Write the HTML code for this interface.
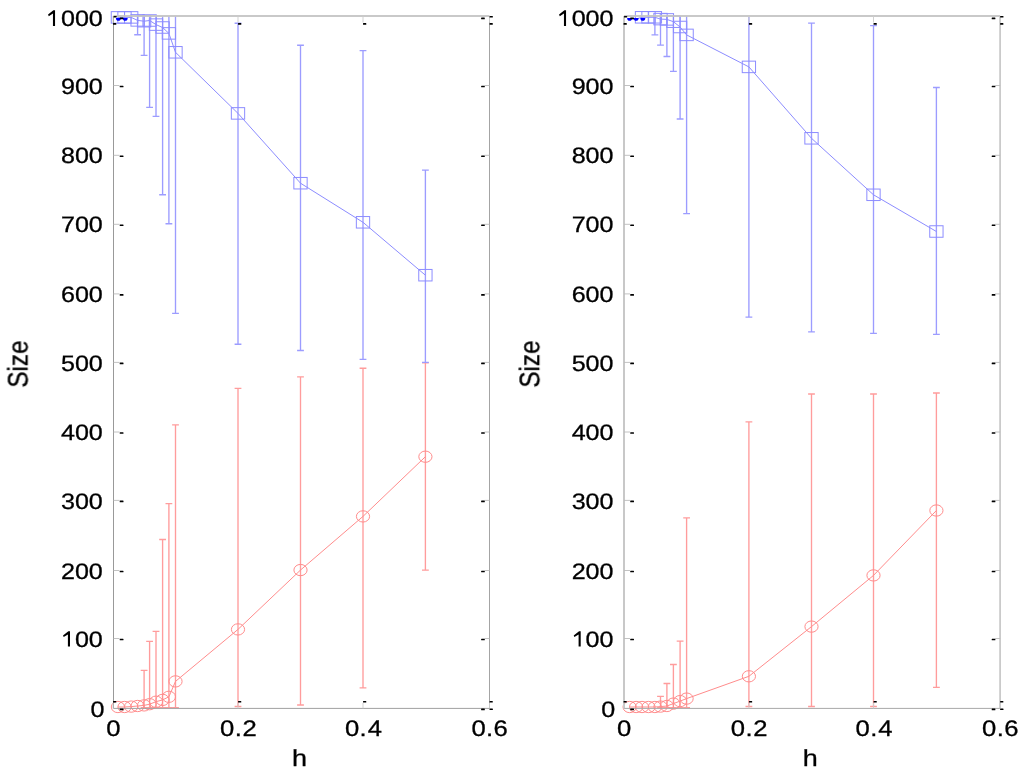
<!DOCTYPE html>
<html><head><meta charset="utf-8"><style>
html,body{margin:0;padding:0;background:#fff;overflow:hidden;}
svg{display:block;}
text{text-rendering:geometricPrecision;font-family:"Liberation Sans",sans-serif;font-size:22.3px;fill:#000;stroke:#000;stroke-width:0.3px;}
</style></head><body>
<svg width="1024" height="773" viewBox="0 0 1024 773">
<rect width="1024" height="773" fill="#fff"/>
<path d="M144.1 670.3V707.6M140.7 670.3H147.5M140.7 707.6H147.5" stroke="#ff9c9c" fill="none" stroke-width="1.35"/>
<path d="M149.6 641.3V707.6M146.2 641.3H153M146.2 707.6H153" stroke="#ff9c9c" fill="none" stroke-width="1.35"/>
<path d="M156 631.4V707.6M152.6 631.4H159.4M152.6 707.6H159.4" stroke="#ff9c9c" fill="none" stroke-width="1.35"/>
<path d="M162.6 539.5V707.6M159.2 539.5H166M159.2 707.6H166" stroke="#ff9c9c" fill="none" stroke-width="1.35"/>
<path d="M168.9 503.6V707.6M165.5 503.6H172.3M165.5 707.6H172.3" stroke="#ff9c9c" fill="none" stroke-width="1.35"/>
<path d="M175.5 424.8V707.6M172.1 424.8H178.9M172.1 707.6H178.9" stroke="#ff9c9c" fill="none" stroke-width="1.35"/>
<path d="M238 388.3V706.5M234.6 388.3H241.4M234.6 706.5H241.4" stroke="#ff9c9c" fill="none" stroke-width="1.35"/>
<path d="M300.5 376.8V705M297.1 376.8H303.9M297.1 705H303.9" stroke="#ff9c9c" fill="none" stroke-width="1.35"/>
<path d="M363 368.2V687.8M359.6 368.2H366.4M359.6 687.8H366.4" stroke="#ff9c9c" fill="none" stroke-width="1.35"/>
<path d="M425.4 362.9V570.1M422 362.9H428.8M422 570.1H428.8" stroke="#ff9c9c" fill="none" stroke-width="1.35"/>
<path d="M137.6 16.4V34.7M134.2 34.7H141" stroke="#9c9cff" fill="none" stroke-width="1.35"/>
<path d="M144.1 16.4V55.4M140.7 55.4H147.5" stroke="#9c9cff" fill="none" stroke-width="1.35"/>
<path d="M149.6 16.4V107.4M146.2 107.4H153" stroke="#9c9cff" fill="none" stroke-width="1.35"/>
<path d="M156 16.4V116.3M152.6 116.3H159.4" stroke="#9c9cff" fill="none" stroke-width="1.35"/>
<path d="M162.6 16.4V194.7M159.2 194.7H166" stroke="#9c9cff" fill="none" stroke-width="1.35"/>
<path d="M168.9 16.4V223.7M165.5 223.7H172.3" stroke="#9c9cff" fill="none" stroke-width="1.35"/>
<path d="M175.5 16.4V313.4M172.1 313.4H178.9" stroke="#9c9cff" fill="none" stroke-width="1.35"/>
<path d="M238 23.2V344.2M234.6 23.2H241.4M234.6 344.2H241.4" stroke="#9c9cff" fill="none" stroke-width="1.35"/>
<path d="M300.5 45.2V350.5M297.1 45.2H303.9M297.1 350.5H303.9" stroke="#9c9cff" fill="none" stroke-width="1.35"/>
<path d="M363 50.6V359.4M359.6 50.6H366.4M359.6 359.4H366.4" stroke="#9c9cff" fill="none" stroke-width="1.35"/>
<path d="M425.4 170.1V362.3M422 170.1H428.8M422 362.3H428.8" stroke="#9c9cff" fill="none" stroke-width="1.35"/>
<polyline points="117.9,17.4 124.5,17.4 131.2,17.4 137.6,20.4 144.1,21.2 149.6,20.5 156,24.6 162.6,27.5 168.9,33.4 175.5,52.3 238,113.4 300.5,183.2 363,222.3 425.4,275.2" stroke="#8c8cff" fill="none" stroke-width="1"/>
<polyline points="117.9,707 124.5,707 131.2,706.6 137.6,706 144.1,705.4 149.6,704.2 156,701.7 162.6,699.9 168.9,696.8 175.5,681.4 238,629.4 300.5,570.05 363,516.4 425.4,456.7" stroke="#ff8c8c" fill="none" stroke-width="1"/>
<rect x="111.25" y="11.65" width="13.3" height="11.5" stroke="#8c8cff" fill="none" stroke-width="1"/>
<rect x="117.85" y="11.65" width="13.3" height="11.5" stroke="#8c8cff" fill="none" stroke-width="1"/>
<rect x="124.55" y="11.65" width="13.3" height="11.5" stroke="#8c8cff" fill="none" stroke-width="1"/>
<rect x="130.95" y="14.65" width="13.3" height="11.5" stroke="#8c8cff" fill="none" stroke-width="1"/>
<rect x="137.45" y="15.45" width="13.3" height="11.5" stroke="#8c8cff" fill="none" stroke-width="1"/>
<rect x="142.95" y="14.75" width="13.3" height="11.5" stroke="#8c8cff" fill="none" stroke-width="1"/>
<rect x="149.35" y="18.85" width="13.3" height="11.5" stroke="#8c8cff" fill="none" stroke-width="1"/>
<rect x="155.95" y="21.75" width="13.3" height="11.5" stroke="#8c8cff" fill="none" stroke-width="1"/>
<rect x="162.25" y="27.65" width="13.3" height="11.5" stroke="#8c8cff" fill="none" stroke-width="1"/>
<rect x="168.85" y="46.55" width="13.3" height="11.5" stroke="#8c8cff" fill="none" stroke-width="1"/>
<rect x="231.35" y="107.65" width="13.3" height="11.5" stroke="#8c8cff" fill="none" stroke-width="1"/>
<rect x="293.85" y="177.45" width="13.3" height="11.5" stroke="#8c8cff" fill="none" stroke-width="1"/>
<rect x="356.35" y="216.55" width="13.3" height="11.5" stroke="#8c8cff" fill="none" stroke-width="1"/>
<rect x="418.75" y="269.45" width="13.3" height="11.5" stroke="#8c8cff" fill="none" stroke-width="1"/>
<ellipse cx="117.9" cy="707" rx="6.6" ry="5.65" stroke="#ff8c8c" fill="none" stroke-width="1"/>
<ellipse cx="124.5" cy="707" rx="6.6" ry="5.65" stroke="#ff8c8c" fill="none" stroke-width="1"/>
<ellipse cx="131.2" cy="706.6" rx="6.6" ry="5.65" stroke="#ff8c8c" fill="none" stroke-width="1"/>
<ellipse cx="137.6" cy="706" rx="6.6" ry="5.65" stroke="#ff8c8c" fill="none" stroke-width="1"/>
<ellipse cx="144.1" cy="705.4" rx="6.6" ry="5.65" stroke="#ff8c8c" fill="none" stroke-width="1"/>
<ellipse cx="149.6" cy="704.2" rx="6.6" ry="5.65" stroke="#ff8c8c" fill="none" stroke-width="1"/>
<ellipse cx="156" cy="701.7" rx="6.6" ry="5.65" stroke="#ff8c8c" fill="none" stroke-width="1"/>
<ellipse cx="162.6" cy="699.9" rx="6.6" ry="5.65" stroke="#ff8c8c" fill="none" stroke-width="1"/>
<ellipse cx="168.9" cy="696.8" rx="6.6" ry="5.65" stroke="#ff8c8c" fill="none" stroke-width="1"/>
<ellipse cx="175.5" cy="681.4" rx="6.6" ry="5.65" stroke="#ff8c8c" fill="none" stroke-width="1"/>
<ellipse cx="238" cy="629.4" rx="6.6" ry="5.65" stroke="#ff8c8c" fill="none" stroke-width="1"/>
<ellipse cx="300.5" cy="570.05" rx="6.6" ry="5.65" stroke="#ff8c8c" fill="none" stroke-width="1"/>
<ellipse cx="363" cy="516.4" rx="6.6" ry="5.65" stroke="#ff8c8c" fill="none" stroke-width="1"/>
<ellipse cx="425.4" cy="456.7" rx="6.6" ry="5.65" stroke="#ff8c8c" fill="none" stroke-width="1"/>
<path d="M115.9 17.9H120.9A2.5 2.8 0 0 1 115.9 17.9Z" fill="#0000ff"/>
<path d="M122.7 17.9H127.7A2.5 2.8 0 0 1 122.7 17.9Z" fill="#0000ff"/>
<path d="M660.5 696.4V707.6M657.1 696.4H663.9M657.1 707.6H663.9" stroke="#ff9c9c" fill="none" stroke-width="1.35"/>
<path d="M666.9 683.5V707.6M663.5 683.5H670.3M663.5 707.6H670.3" stroke="#ff9c9c" fill="none" stroke-width="1.35"/>
<path d="M673.4 664.5V707.6M670 664.5H676.8M670 707.6H676.8" stroke="#ff9c9c" fill="none" stroke-width="1.35"/>
<path d="M680.1 641.1V707.6M676.7 641.1H683.5M676.7 707.6H683.5" stroke="#ff9c9c" fill="none" stroke-width="1.35"/>
<path d="M686.6 517.9V707.6M683.2 517.9H690M683.2 707.6H690" stroke="#ff9c9c" fill="none" stroke-width="1.35"/>
<path d="M748.9 421.8V706.5M745.5 421.8H752.3M745.5 706.5H752.3" stroke="#ff9c9c" fill="none" stroke-width="1.35"/>
<path d="M811.5 394V706.5M808.1 394H814.9M808.1 706.5H814.9" stroke="#ff9c9c" fill="none" stroke-width="1.35"/>
<path d="M873.5 394V706.5M870.1 394H876.9M870.1 706.5H876.9" stroke="#ff9c9c" fill="none" stroke-width="1.35"/>
<path d="M936.4 393V687.3M933 393H939.8M933 687.3H939.8" stroke="#ff9c9c" fill="none" stroke-width="1.35"/>
<path d="M654.9 16.4V34.8M651.5 34.8H658.3" stroke="#9c9cff" fill="none" stroke-width="1.35"/>
<path d="M660.5 16.4V45.1M657.1 45.1H663.9" stroke="#9c9cff" fill="none" stroke-width="1.35"/>
<path d="M666.9 16.4V56.5M663.5 56.5H670.3" stroke="#9c9cff" fill="none" stroke-width="1.35"/>
<path d="M673.4 16.4V71.4M670 71.4H676.8" stroke="#9c9cff" fill="none" stroke-width="1.35"/>
<path d="M680.1 16.4V119M676.7 119H683.5" stroke="#9c9cff" fill="none" stroke-width="1.35"/>
<path d="M686.6 16.4V213.6M683.2 213.6H690" stroke="#9c9cff" fill="none" stroke-width="1.35"/>
<path d="M748.9 16.4V317.1M745.5 317.1H752.3" stroke="#9c9cff" fill="none" stroke-width="1.35"/>
<path d="M811.5 23.1V331.9M808.1 23.1H814.9M808.1 331.9H814.9" stroke="#9c9cff" fill="none" stroke-width="1.35"/>
<path d="M873.5 25.6V333.3M870.1 25.6H876.9M870.1 333.3H876.9" stroke="#9c9cff" fill="none" stroke-width="1.35"/>
<path d="M936.4 87.5V334.3M933 87.5H939.8M933 334.3H939.8" stroke="#9c9cff" fill="none" stroke-width="1.35"/>
<polyline points="629.6,18.9 636.1,18.9 642,17.3 648.5,17.3 654.9,17.3 660.5,19.1 666.9,19.4 673.4,21.7 680.1,27 686.6,34.9 748.9,66.9 811.5,138.3 873.5,194.8 936.4,231.5" stroke="#8c8cff" fill="none" stroke-width="1"/>
<polyline points="629.6,707 636.1,707 642,707 648.5,707 654.9,707 660.5,706.6 666.9,706 673.4,703.6 680.1,701.1 686.6,698.6 748.9,676.3 811.5,626.6 873.5,575.4 936.4,510.5" stroke="#ff8c8c" fill="none" stroke-width="1"/>
<rect x="635.35" y="11.55" width="13.3" height="11.5" stroke="#8c8cff" fill="none" stroke-width="1"/>
<rect x="641.85" y="11.55" width="13.3" height="11.5" stroke="#8c8cff" fill="none" stroke-width="1"/>
<rect x="648.25" y="11.55" width="13.3" height="11.5" stroke="#8c8cff" fill="none" stroke-width="1"/>
<rect x="653.85" y="13.35" width="13.3" height="11.5" stroke="#8c8cff" fill="none" stroke-width="1"/>
<rect x="660.25" y="13.65" width="13.3" height="11.5" stroke="#8c8cff" fill="none" stroke-width="1"/>
<rect x="666.75" y="15.95" width="13.3" height="11.5" stroke="#8c8cff" fill="none" stroke-width="1"/>
<rect x="673.45" y="21.25" width="13.3" height="11.5" stroke="#8c8cff" fill="none" stroke-width="1"/>
<rect x="679.95" y="29.15" width="13.3" height="11.5" stroke="#8c8cff" fill="none" stroke-width="1"/>
<rect x="742.25" y="61.15" width="13.3" height="11.5" stroke="#8c8cff" fill="none" stroke-width="1"/>
<rect x="804.85" y="132.55" width="13.3" height="11.5" stroke="#8c8cff" fill="none" stroke-width="1"/>
<rect x="866.85" y="189.05" width="13.3" height="11.5" stroke="#8c8cff" fill="none" stroke-width="1"/>
<rect x="929.75" y="225.75" width="13.3" height="11.5" stroke="#8c8cff" fill="none" stroke-width="1"/>
<ellipse cx="629.6" cy="707" rx="6.6" ry="5.65" stroke="#ff8c8c" fill="none" stroke-width="1"/>
<ellipse cx="636.1" cy="707" rx="6.6" ry="5.65" stroke="#ff8c8c" fill="none" stroke-width="1"/>
<ellipse cx="642" cy="707" rx="6.6" ry="5.65" stroke="#ff8c8c" fill="none" stroke-width="1"/>
<ellipse cx="648.5" cy="707" rx="6.6" ry="5.65" stroke="#ff8c8c" fill="none" stroke-width="1"/>
<ellipse cx="654.9" cy="707" rx="6.6" ry="5.65" stroke="#ff8c8c" fill="none" stroke-width="1"/>
<ellipse cx="660.5" cy="706.6" rx="6.6" ry="5.65" stroke="#ff8c8c" fill="none" stroke-width="1"/>
<ellipse cx="666.9" cy="706" rx="6.6" ry="5.65" stroke="#ff8c8c" fill="none" stroke-width="1"/>
<ellipse cx="673.4" cy="703.6" rx="6.6" ry="5.65" stroke="#ff8c8c" fill="none" stroke-width="1"/>
<ellipse cx="680.1" cy="701.1" rx="6.6" ry="5.65" stroke="#ff8c8c" fill="none" stroke-width="1"/>
<ellipse cx="686.6" cy="698.6" rx="6.6" ry="5.65" stroke="#ff8c8c" fill="none" stroke-width="1"/>
<ellipse cx="748.9" cy="676.3" rx="6.6" ry="5.65" stroke="#ff8c8c" fill="none" stroke-width="1"/>
<ellipse cx="811.5" cy="626.6" rx="6.6" ry="5.65" stroke="#ff8c8c" fill="none" stroke-width="1"/>
<ellipse cx="873.5" cy="575.4" rx="6.6" ry="5.65" stroke="#ff8c8c" fill="none" stroke-width="1"/>
<ellipse cx="936.4" cy="510.5" rx="6.6" ry="5.65" stroke="#ff8c8c" fill="none" stroke-width="1"/>
<path d="M627.1 17.9H632.1A2.5 2.8 0 0 1 627.1 17.9Z" fill="#0000ff"/>
<path d="M633.6 17.9H638.6A2.5 2.8 0 0 1 633.6 17.9Z" fill="#0000ff"/>
<path d="M640.3 17.9H645.3A2.5 2.8 0 0 1 640.3 17.9Z" fill="#0000ff"/>
<line x1="113.5" y1="708.4" x2="489.5" y2="708.4" stroke="#a0a0a0" stroke-width="1.0"/>
<line x1="113.5" y1="16" x2="113.5" y2="708.4" stroke="#999999" stroke-width="1.0"/>
<line x1="489.5" y1="16" x2="489.5" y2="708.4" stroke="#a4a4a4" stroke-width="1.0"/>
<line x1="113.5" y1="16" x2="489.5" y2="16" stroke="#c4c4c4" stroke-width="1.8" opacity="0.9"/>
<rect x="119.7" y="708.6" width="3.8" height="1.6" rx="0.5" fill="#000"/>
<rect x="481.1" y="708.6" width="3.7" height="1.6" rx="0.5" fill="#000"/>
<line x1="113.5" y1="638.5" x2="119.5" y2="638.5" stroke="#bbb" stroke-width="0.9"/>
<line x1="489.5" y1="638.5" x2="484.5" y2="638.5" stroke="#bbb" stroke-width="0.9"/>
<rect x="119.7" y="638.7" width="3.8" height="1.6" rx="0.5" fill="#000"/>
<rect x="481.1" y="638.7" width="3.7" height="1.6" rx="0.5" fill="#000"/>
<line x1="113.5" y1="570.5" x2="119.5" y2="570.5" stroke="#bbb" stroke-width="0.9"/>
<line x1="489.5" y1="570.5" x2="484.5" y2="570.5" stroke="#bbb" stroke-width="0.9"/>
<rect x="119.7" y="570.7" width="3.8" height="1.6" rx="0.5" fill="#000"/>
<rect x="481.1" y="570.7" width="3.7" height="1.6" rx="0.5" fill="#000"/>
<line x1="113.5" y1="500.4" x2="119.5" y2="500.4" stroke="#bbb" stroke-width="0.9"/>
<line x1="489.5" y1="500.4" x2="484.5" y2="500.4" stroke="#bbb" stroke-width="0.9"/>
<rect x="119.7" y="500.6" width="3.8" height="1.6" rx="0.5" fill="#000"/>
<rect x="481.1" y="500.6" width="3.7" height="1.6" rx="0.5" fill="#000"/>
<line x1="113.5" y1="432" x2="119.5" y2="432" stroke="#bbb" stroke-width="0.9"/>
<line x1="489.5" y1="432" x2="484.5" y2="432" stroke="#bbb" stroke-width="0.9"/>
<rect x="119.7" y="432.2" width="3.8" height="1.6" rx="0.5" fill="#000"/>
<rect x="481.1" y="432.2" width="3.7" height="1.6" rx="0.5" fill="#000"/>
<line x1="113.5" y1="362.4" x2="119.5" y2="362.4" stroke="#bbb" stroke-width="0.9"/>
<line x1="489.5" y1="362.4" x2="484.5" y2="362.4" stroke="#bbb" stroke-width="0.9"/>
<rect x="119.7" y="362.6" width="3.8" height="1.6" rx="0.5" fill="#000"/>
<rect x="481.1" y="362.6" width="3.7" height="1.6" rx="0.5" fill="#000"/>
<line x1="113.5" y1="293.9" x2="119.5" y2="293.9" stroke="#bbb" stroke-width="0.9"/>
<line x1="489.5" y1="293.9" x2="484.5" y2="293.9" stroke="#bbb" stroke-width="0.9"/>
<rect x="119.7" y="294.1" width="3.8" height="1.6" rx="0.5" fill="#000"/>
<rect x="481.1" y="294.1" width="3.7" height="1.6" rx="0.5" fill="#000"/>
<line x1="113.5" y1="224.3" x2="119.5" y2="224.3" stroke="#bbb" stroke-width="0.9"/>
<line x1="489.5" y1="224.3" x2="484.5" y2="224.3" stroke="#bbb" stroke-width="0.9"/>
<rect x="119.7" y="224.5" width="3.8" height="1.6" rx="0.5" fill="#000"/>
<rect x="481.1" y="224.5" width="3.7" height="1.6" rx="0.5" fill="#000"/>
<line x1="113.5" y1="155.3" x2="119.5" y2="155.3" stroke="#bbb" stroke-width="0.9"/>
<line x1="489.5" y1="155.3" x2="484.5" y2="155.3" stroke="#bbb" stroke-width="0.9"/>
<rect x="119.7" y="155.5" width="3.8" height="1.6" rx="0.5" fill="#000"/>
<rect x="481.1" y="155.5" width="3.7" height="1.6" rx="0.5" fill="#000"/>
<line x1="113.5" y1="85.5" x2="119.5" y2="85.5" stroke="#bbb" stroke-width="0.9"/>
<line x1="489.5" y1="85.5" x2="484.5" y2="85.5" stroke="#bbb" stroke-width="0.9"/>
<rect x="119.7" y="85.7" width="3.8" height="1.6" rx="0.5" fill="#000"/>
<rect x="481.1" y="85.7" width="3.7" height="1.6" rx="0.5" fill="#000"/>
<rect x="119.7" y="17.6" width="3.8" height="1.6" rx="0.5" fill="#000"/>
<rect x="481.1" y="17.6" width="3.7" height="1.6" rx="0.5" fill="#000"/>
<line x1="113" y1="708.4" x2="113" y2="702.9" stroke="#ccc" stroke-width="0.9"/>
<rect x="113" y="701" width="3.3" height="1.6" rx="0.5" fill="#000"/>
<line x1="113" y1="16" x2="113" y2="22.5" stroke="#ccc" stroke-width="0.9"/>
<rect x="113" y="23.1" width="3.3" height="1.6" rx="0.5" fill="#000"/>
<line x1="238" y1="708.4" x2="238" y2="702.9" stroke="#ccc" stroke-width="0.9"/>
<rect x="238" y="701" width="3.3" height="1.6" rx="0.5" fill="#000"/>
<line x1="238" y1="16" x2="238" y2="22.5" stroke="#ccc" stroke-width="0.9"/>
<rect x="238" y="23.1" width="3.3" height="1.6" rx="0.5" fill="#000"/>
<line x1="363" y1="708.4" x2="363" y2="702.9" stroke="#ccc" stroke-width="0.9"/>
<rect x="363" y="701" width="3.3" height="1.6" rx="0.5" fill="#000"/>
<line x1="363" y1="16" x2="363" y2="22.5" stroke="#ccc" stroke-width="0.9"/>
<rect x="363" y="23.1" width="3.3" height="1.6" rx="0.5" fill="#000"/>
<line x1="489.5" y1="708.4" x2="489.5" y2="702.9" stroke="#ccc" stroke-width="0.9"/>
<rect x="489.5" y="701" width="3.3" height="1.6" rx="0.5" fill="#000"/>
<line x1="489.5" y1="16" x2="489.5" y2="22.5" stroke="#ccc" stroke-width="0.9"/>
<rect x="489.5" y="23.1" width="3.3" height="1.6" rx="0.5" fill="#000"/>
<rect x="113.5" y="16" width="3.2" height="1.6" rx="0.5" fill="#000"/>
<rect x="489.5" y="16" width="3.4" height="1.6" rx="0.5" fill="#000"/>
<rect x="489.5" y="708.4" width="3.4" height="1.6" rx="0.5" fill="#000"/>
<line x1="624" y1="708.4" x2="1000.1" y2="708.4" stroke="#a8a8a8" stroke-width="1.0"/>
<line x1="624" y1="16" x2="624" y2="708.4" stroke="#c2c2c2" stroke-width="1.8"/>
<line x1="1000.1" y1="16" x2="1000.1" y2="708.4" stroke="#c4c4c4" stroke-width="1.6"/>
<line x1="624" y1="16" x2="1000.1" y2="16" stroke="#c4c4c4" stroke-width="1.8" opacity="0.9"/>
<rect x="630.2" y="708.6" width="3.8" height="1.6" rx="0.5" fill="#000"/>
<rect x="991.7" y="708.6" width="3.7" height="1.6" rx="0.5" fill="#000"/>
<line x1="624" y1="638.5" x2="630" y2="638.5" stroke="#bbb" stroke-width="0.9"/>
<line x1="1000.1" y1="638.5" x2="995.1" y2="638.5" stroke="#bbb" stroke-width="0.9"/>
<rect x="630.2" y="638.7" width="3.8" height="1.6" rx="0.5" fill="#000"/>
<rect x="991.7" y="638.7" width="3.7" height="1.6" rx="0.5" fill="#000"/>
<line x1="624" y1="570.5" x2="630" y2="570.5" stroke="#bbb" stroke-width="0.9"/>
<line x1="1000.1" y1="570.5" x2="995.1" y2="570.5" stroke="#bbb" stroke-width="0.9"/>
<rect x="630.2" y="570.7" width="3.8" height="1.6" rx="0.5" fill="#000"/>
<rect x="991.7" y="570.7" width="3.7" height="1.6" rx="0.5" fill="#000"/>
<line x1="624" y1="500.4" x2="630" y2="500.4" stroke="#bbb" stroke-width="0.9"/>
<line x1="1000.1" y1="500.4" x2="995.1" y2="500.4" stroke="#bbb" stroke-width="0.9"/>
<rect x="630.2" y="500.6" width="3.8" height="1.6" rx="0.5" fill="#000"/>
<rect x="991.7" y="500.6" width="3.7" height="1.6" rx="0.5" fill="#000"/>
<line x1="624" y1="432" x2="630" y2="432" stroke="#bbb" stroke-width="0.9"/>
<line x1="1000.1" y1="432" x2="995.1" y2="432" stroke="#bbb" stroke-width="0.9"/>
<rect x="630.2" y="432.2" width="3.8" height="1.6" rx="0.5" fill="#000"/>
<rect x="991.7" y="432.2" width="3.7" height="1.6" rx="0.5" fill="#000"/>
<line x1="624" y1="362.4" x2="630" y2="362.4" stroke="#bbb" stroke-width="0.9"/>
<line x1="1000.1" y1="362.4" x2="995.1" y2="362.4" stroke="#bbb" stroke-width="0.9"/>
<rect x="630.2" y="362.6" width="3.8" height="1.6" rx="0.5" fill="#000"/>
<rect x="991.7" y="362.6" width="3.7" height="1.6" rx="0.5" fill="#000"/>
<line x1="624" y1="293.9" x2="630" y2="293.9" stroke="#bbb" stroke-width="0.9"/>
<line x1="1000.1" y1="293.9" x2="995.1" y2="293.9" stroke="#bbb" stroke-width="0.9"/>
<rect x="630.2" y="294.1" width="3.8" height="1.6" rx="0.5" fill="#000"/>
<rect x="991.7" y="294.1" width="3.7" height="1.6" rx="0.5" fill="#000"/>
<line x1="624" y1="224.3" x2="630" y2="224.3" stroke="#bbb" stroke-width="0.9"/>
<line x1="1000.1" y1="224.3" x2="995.1" y2="224.3" stroke="#bbb" stroke-width="0.9"/>
<rect x="630.2" y="224.5" width="3.8" height="1.6" rx="0.5" fill="#000"/>
<rect x="991.7" y="224.5" width="3.7" height="1.6" rx="0.5" fill="#000"/>
<line x1="624" y1="155.3" x2="630" y2="155.3" stroke="#bbb" stroke-width="0.9"/>
<line x1="1000.1" y1="155.3" x2="995.1" y2="155.3" stroke="#bbb" stroke-width="0.9"/>
<rect x="630.2" y="155.5" width="3.8" height="1.6" rx="0.5" fill="#000"/>
<rect x="991.7" y="155.5" width="3.7" height="1.6" rx="0.5" fill="#000"/>
<line x1="624" y1="85.5" x2="630" y2="85.5" stroke="#bbb" stroke-width="0.9"/>
<line x1="1000.1" y1="85.5" x2="995.1" y2="85.5" stroke="#bbb" stroke-width="0.9"/>
<rect x="630.2" y="85.7" width="3.8" height="1.6" rx="0.5" fill="#000"/>
<rect x="991.7" y="85.7" width="3.7" height="1.6" rx="0.5" fill="#000"/>
<rect x="630.2" y="17.6" width="3.8" height="1.6" rx="0.5" fill="#000"/>
<rect x="991.7" y="17.6" width="3.7" height="1.6" rx="0.5" fill="#000"/>
<line x1="623.5" y1="708.4" x2="623.5" y2="702.9" stroke="#ccc" stroke-width="0.9"/>
<rect x="623.5" y="701" width="3.3" height="1.6" rx="0.5" fill="#000"/>
<line x1="623.5" y1="16" x2="623.5" y2="22.5" stroke="#ccc" stroke-width="0.9"/>
<rect x="623.5" y="23.1" width="3.3" height="1.6" rx="0.5" fill="#000"/>
<line x1="748.9" y1="708.4" x2="748.9" y2="702.9" stroke="#ccc" stroke-width="0.9"/>
<rect x="748.9" y="701" width="3.3" height="1.6" rx="0.5" fill="#000"/>
<line x1="748.9" y1="16" x2="748.9" y2="22.5" stroke="#ccc" stroke-width="0.9"/>
<rect x="748.9" y="23.1" width="3.3" height="1.6" rx="0.5" fill="#000"/>
<line x1="873.5" y1="708.4" x2="873.5" y2="702.9" stroke="#ccc" stroke-width="0.9"/>
<rect x="873.5" y="701" width="3.3" height="1.6" rx="0.5" fill="#000"/>
<line x1="873.5" y1="16" x2="873.5" y2="22.5" stroke="#ccc" stroke-width="0.9"/>
<rect x="873.5" y="23.1" width="3.3" height="1.6" rx="0.5" fill="#000"/>
<line x1="1000.1" y1="708.4" x2="1000.1" y2="702.9" stroke="#ccc" stroke-width="0.9"/>
<rect x="1000.1" y="701" width="3.3" height="1.6" rx="0.5" fill="#000"/>
<line x1="1000.1" y1="16" x2="1000.1" y2="22.5" stroke="#ccc" stroke-width="0.9"/>
<rect x="1000.1" y="23.1" width="3.3" height="1.6" rx="0.5" fill="#000"/>
<rect x="624" y="16" width="3.2" height="1.6" rx="0.5" fill="#000"/>
<rect x="1000.1" y="16" width="3.4" height="1.6" rx="0.5" fill="#000"/>
<rect x="1000.1" y="708.4" width="3.4" height="1.6" rx="0.5" fill="#000"/>
<g style="filter:grayscale(1)">
<text x="92.89" y="716.5" text-anchor="end" transform="scale(1.125,1)">0</text>
<text x="91.38" y="646.6" text-anchor="end" transform="scale(1.125,1)"><tspan style="fill:none;stroke:none">1</tspan>00</text>
<text x="91.38" y="578.6" text-anchor="end" transform="scale(1.125,1)">200</text>
<text x="91.38" y="508.5" text-anchor="end" transform="scale(1.125,1)">300</text>
<text x="91.38" y="440.1" text-anchor="end" transform="scale(1.125,1)">400</text>
<text x="91.38" y="370.5" text-anchor="end" transform="scale(1.125,1)">500</text>
<text x="91.38" y="302" text-anchor="end" transform="scale(1.125,1)">600</text>
<text x="91.38" y="232.4" text-anchor="end" transform="scale(1.125,1)">700</text>
<text x="91.38" y="163.4" text-anchor="end" transform="scale(1.125,1)">800</text>
<text x="91.38" y="93.6" text-anchor="end" transform="scale(1.125,1)">900</text>
<text x="91.38" y="25.5" text-anchor="end" transform="scale(1.125,1)"><tspan style="fill:none;stroke:none">1</tspan>000</text>
<path d="M55.05 10.3 L55.05 25.9 L52.95 25.9 L52.95 13.6 L48.75 16.25 L48.05 14.55 L53.4 10.3Z" fill="#000"/>
<path d="M70 631.15 L70 646.6 L67.9 646.6 L67.9 634.45 L63.7 637.1 L63 635.4 L68.35 631.15Z" fill="#000"/>
<text x="93.3" y="735.9" style="font-size:22.5px" transform="scale(1.14,1)">0</text>
<text x="193.07 205.91 212.73" y="735.9" style="font-size:22.5px" transform="scale(1.14,1)">0.2</text>
<text x="302.54 315.38 322.51" y="735.9" style="font-size:22.5px" transform="scale(1.14,1)">0.4</text>
<text x="413.51 426.35 432.98" y="735.9" style="font-size:22.5px" transform="scale(1.14,1)">0.6</text>
<text x="258.19" y="766.3" text-anchor="middle" style="font-size:23.3px" transform="scale(1.16,1)">h</text>
<text transform="translate(27.8,364.15) scale(1.15,1) rotate(-90)" text-anchor="middle" style="font-size:24.3px">Size</text>
<text x="546.84" y="716.5" text-anchor="end" transform="scale(1.125,1)">0</text>
<text x="545.33" y="646.6" text-anchor="end" transform="scale(1.125,1)"><tspan style="fill:none;stroke:none">1</tspan>00</text>
<text x="545.33" y="578.6" text-anchor="end" transform="scale(1.125,1)">200</text>
<text x="545.33" y="508.5" text-anchor="end" transform="scale(1.125,1)">300</text>
<text x="545.33" y="440.1" text-anchor="end" transform="scale(1.125,1)">400</text>
<text x="545.33" y="370.5" text-anchor="end" transform="scale(1.125,1)">500</text>
<text x="545.33" y="302" text-anchor="end" transform="scale(1.125,1)">600</text>
<text x="545.33" y="232.4" text-anchor="end" transform="scale(1.125,1)">700</text>
<text x="545.33" y="163.4" text-anchor="end" transform="scale(1.125,1)">800</text>
<text x="545.33" y="93.6" text-anchor="end" transform="scale(1.125,1)">900</text>
<text x="545.33" y="25.5" text-anchor="end" transform="scale(1.125,1)"><tspan style="fill:none;stroke:none">1</tspan>000</text>
<path d="M566.05 10.3 L566.05 25.9 L563.95 25.9 L563.95 13.6 L559.75 16.25 L559.05 14.55 L564.4 10.3Z" fill="#000"/>
<path d="M580.7 631.15 L580.7 646.6 L578.6 646.6 L578.6 634.45 L574.4 637.1 L573.7 635.4 L579.05 631.15Z" fill="#000"/>
<text x="541.29" y="735.9" style="font-size:22.5px" transform="scale(1.14,1)">0</text>
<text x="641.05 653.89 660.71" y="735.9" style="font-size:22.5px" transform="scale(1.14,1)">0.2</text>
<text x="750.52 763.37 770.49" y="735.9" style="font-size:22.5px" transform="scale(1.14,1)">0.4</text>
<text x="861.49 874.33 880.96" y="735.9" style="font-size:22.5px" transform="scale(1.14,1)">0.6</text>
<text x="698.45" y="766.3" text-anchor="middle" style="font-size:23.3px" transform="scale(1.16,1)">h</text>
<text transform="translate(539.5,364.15) scale(1.15,1) rotate(-90)" text-anchor="middle" style="font-size:24.3px">Size</text>
</g>
</svg>
</body></html>
